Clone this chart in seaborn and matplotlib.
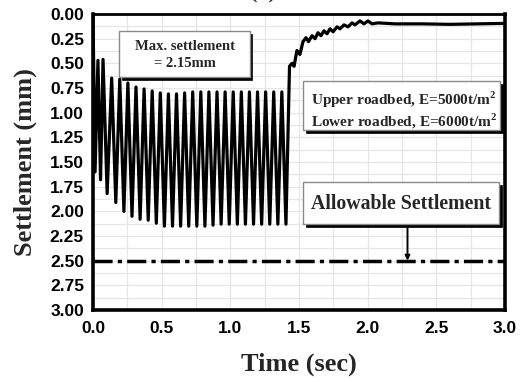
import matplotlib
matplotlib.use("Agg")
import matplotlib.pyplot as plt
import seaborn as sns
import pandas as pd
from matplotlib.patches import Rectangle
from matplotlib.ticker import MultipleLocator, FormatStrFormatter

# ---------------- data ----------------
time_sec = [
    0.000, 0.015, 0.036, 0.055, 0.073, 0.103,
    0.136, 0.166, 0.195, 0.225, 0.254, 0.284, 0.313, 0.343, 0.372, 0.402,
    0.431, 0.461, 0.490, 0.520, 0.549, 0.579, 0.608, 0.638, 0.667, 0.697,
    0.726, 0.756, 0.785, 0.815, 0.844, 0.874, 0.903, 0.933, 0.962, 0.992,
    1.021, 1.051, 1.080, 1.110, 1.139, 1.169, 1.198, 1.228, 1.257, 1.287,
    1.316, 1.346, 1.375, 1.405,
    1.431, 1.449, 1.464, 1.485, 1.507, 1.529, 1.551, 1.569, 1.595, 1.617,
    1.638, 1.660, 1.682, 1.704, 1.726, 1.748, 1.777, 1.799, 1.828, 1.857,
    1.886, 1.908, 1.944, 1.973, 2.002, 2.032, 2.075,
    2.200, 2.400, 2.600, 2.800, 3.000,
]
settlement_mm = [
    0.00, 1.60, 0.47, 1.68, 0.46, 1.82,
    0.65, 1.91, 0.66, 2.00, 0.70, 2.05, 0.74, 2.08, 0.76, 2.09,
    0.78, 2.12, 0.80, 2.15, 0.81, 2.15, 0.81, 2.15, 0.80, 2.15,
    0.79, 2.15, 0.79, 2.15, 0.79, 2.14, 0.79, 2.13, 0.79, 2.13,
    0.79, 2.13, 0.79, 2.13, 0.79, 2.13, 0.79, 2.13, 0.79, 2.13,
    0.79, 2.13, 0.79, 2.13,
    0.53, 0.50, 0.53, 0.37, 0.41, 0.28, 0.24, 0.28, 0.22, 0.25,
    0.19, 0.22, 0.17, 0.20, 0.15, 0.18, 0.13, 0.15, 0.11, 0.13,
    0.09, 0.11, 0.07, 0.10, 0.07, 0.10, 0.09,
    0.10, 0.10, 0.105, 0.10, 0.095,
]
allowable_settlement = 2.5
allowable_time = 2.29
max_settlement_text = "Max. settlement\n= 2.15mm"
roadbed_lines = ["Upper roadbed, E=5000t/m$^{\\mathbf{2}}$",
                 "Lower roadbed, E=6000t/m$^{\\mathbf{2}}$"]
allowable_text = "Allowable Settlement"
x_label = "Time (sec)"
y_label = "Settlement (mm)"
title_text = "(a)"

df = pd.DataFrame({"time": time_sec, "settlement": settlement_mm})

# ---------------- style ----------------
sns.set_style("white")
plt.rcParams["font.family"] = ["Liberation Sans", "DejaVu Sans"]
plt.rcParams["mathtext.fontset"] = "custom"
plt.rcParams["mathtext.rm"] = "Liberation Serif"
plt.rcParams["mathtext.bf"] = "Liberation Serif:bold"

W, H = 531, 380
fig = plt.figure(figsize=(W / 100, H / 100), dpi=100)
L, R, T, B = 93, 505, 14, 310
ax = fig.add_axes([L / W, 1 - B / H, (R - L) / W, (B - T) / H])

sns.lineplot(data=df, x="time", y="settlement", ax=ax, color="black",
             lw=2.3, estimator=None, sort=False, zorder=3)

ax.axhline(allowable_settlement, color="black", lw=2.5,
           dashes=(5.5, 1.5, 1.2, 1.5), zorder=3)

ax.set_xlim(0, 3.0)
ax.set_ylim(3.0, 0.0)

ax.xaxis.set_major_locator(MultipleLocator(0.5))
ax.xaxis.set_minor_locator(MultipleLocator(0.25))
ax.yaxis.set_major_locator(MultipleLocator(0.25))
ax.yaxis.set_minor_locator(MultipleLocator(0.125))
ax.xaxis.set_major_formatter(FormatStrFormatter("%.1f"))
ax.yaxis.set_major_formatter(FormatStrFormatter("%.2f"))

ax.grid(True, which="both", color="#e6e6e6", lw=0.9, zorder=0)
ax.set_axisbelow(True)

ax.tick_params(which="major", direction="in", length=8.5, width=1.8,
               colors="black", labelsize=12.5)
ax.tick_params(which="minor", direction="in", length=4.5, width=1.5,
               colors="black")
ax.tick_params(axis="y", which="major", pad=6.5)
ax.tick_params(axis="x", which="major", pad=8)
for lab in ax.get_xticklabels() + ax.get_yticklabels():
    lab.set_fontweight("bold")
    lab.set_family("Liberation Sans")

for side in ["left", "bottom", "right"]:
    ax.spines[side].set_linewidth(2.6)
    ax.spines[side].set_color("black")
ax.spines["top"].set_linewidth(2.0)
ax.spines["top"].set_color("black")

serif = "Liberation Serif"
ax.set_xlabel(x_label, fontsize=19, fontweight="bold", family=serif)
ax.set_ylabel(y_label, fontsize=19, fontweight="bold", family=serif)
ax.xaxis.set_label_coords(0.5, -0.143)
ax.yaxis.set_label_coords(-0.136, 0.5)

fig.text(263 / W, 1.005, title_text, ha="center", va="baseline",
         fontsize=16, fontweight="bold", family=serif)


# ---------------- shadowed boxes ----------------
def px_box(x0, y0, x1, y1):
    fx0 = (x0 - L) / (R - L)
    fx1 = (x1 - L) / (R - L)
    fy0 = 1 - (y1 - T) / (B - T)
    fy1 = 1 - (y0 - T) / (B - T)
    dx = 2.5 / (R - L)
    dy = 2.5 / (B - T)
    ax.add_patch(Rectangle((fx0 + dx, fy0 - dy), fx1 - fx0, fy1 - fy0,
                           transform=ax.transAxes, facecolor="black",
                           edgecolor="black", lw=0.5, zorder=5, clip_on=False))
    ax.add_patch(Rectangle((fx0, fy0), fx1 - fx0, fy1 - fy0,
                           transform=ax.transAxes, facecolor="white",
                           edgecolor="#8a8a8a", lw=1.0, zorder=6, clip_on=False))


def ax_xy(px, py):
    return (px - L) / (R - L), 1 - (py - T) / (B - T)


px_box(119, 31, 250, 77)
x, y = ax_xy(185, 55)
ax.text(x, y, max_settlement_text, transform=ax.transAxes, ha="center",
        va="center", fontsize=10.5, fontweight="bold", family=serif,
        linespacing=1.35, zorder=7)

px_box(303, 81, 500, 130)
x, y = ax_xy(311, 100)
ax.text(x, y, roadbed_lines[0], transform=ax.transAxes, ha="left",
        va="center", fontsize=11, fontweight="bold", family=serif, zorder=7)
x, y = ax_xy(311, 121)
ax.text(x, y, roadbed_lines[1], transform=ax.transAxes, ha="left",
        va="center", fontsize=11, fontweight="bold", family=serif, zorder=7)

px_box(303, 182, 499, 224)
x, y = ax_xy(401, 204)
ax.text(x, y, allowable_text, transform=ax.transAxes, ha="center",
        va="center", fontsize=14.3, fontweight="bold", family=serif, zorder=7)

# arrow from box to allowable line
box_bottom_val = (227 - T) / ((B - T) / 3.0)
ax.annotate("", xy=(allowable_time, allowable_settlement),
            xytext=(allowable_time, box_bottom_val),
            arrowprops=dict(arrowstyle="-|>", color="black", lw=1.4,
                            mutation_scale=7, shrinkA=0, shrinkB=0),
            zorder=4)

fig.savefig("out.png", dpi=100)
